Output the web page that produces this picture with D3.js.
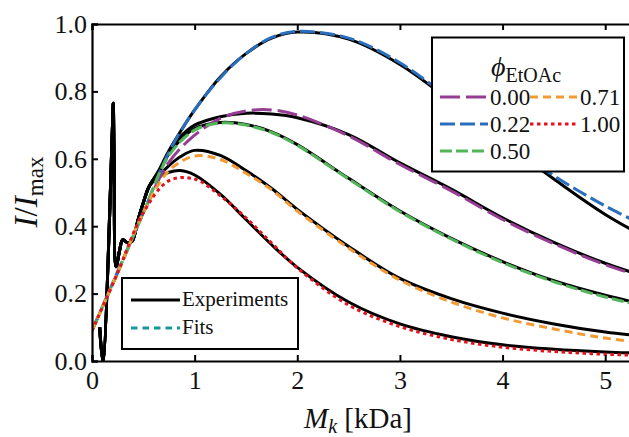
<!DOCTYPE html>
<html><head><meta charset="utf-8">
<script src="https://cdn.jsdelivr.net/npm/d3@7"></script>
<style>
html,body{margin:0;padding:0;background:#fff;}
svg text{font-family:"Liberation Serif","DejaVu Serif",serif;fill:#111;}
</style></head>
<body><svg id="c" width="629" height="437"></svg>
<script>
// ---------------- data ----------------
const xTicks = [0, 1, 2, 3, 4, 5];
const yTicks = [0.0, 0.2, 0.4, 0.6, 0.8, 1.0];
const phiLabels = ["0.00", "0.22", "0.50", "0.71", "1.00"];
const phiColors = ["#953d92", "#2a6fbd", "#52b55a", "#f49a35", "#e3121c"];
const phiDash   = ["20,6", "15,5", "12,4", "8,5", "3.5,3.5"];

// fits (shared grid)
const fitX   = [0, 0.25, 0.5, 0.75, 1.0, 1.25, 1.5, 1.75, 2.0, 2.5, 3.0, 3.5, 4.0, 4.5, 5.0, 5.5];
const fit000 = [0.09, 0.262, 0.44, 0.59, 0.67, 0.72, 0.742, 0.745, 0.73, 0.668, 0.583, 0.505, 0.42, 0.348, 0.286, 0.236];
const fit022 = [0.09, 0.265, 0.44, 0.62, 0.745, 0.84, 0.912, 0.96, 0.978, 0.958, 0.885, 0.775, 0.66, 0.55, 0.46, 0.385];
const fit050 = [0.09, 0.262, 0.44, 0.61, 0.685, 0.706, 0.70, 0.678, 0.64, 0.54, 0.443, 0.362, 0.292, 0.235, 0.19, 0.155];
const fit071 = [0.09, 0.262, 0.44, 0.565, 0.608, 0.598, 0.557, 0.508, 0.445, 0.335, 0.24, 0.175, 0.128, 0.095, 0.068, 0.05];
const fit100 = [0.09, 0.262, 0.44, 0.535, 0.54, 0.49, 0.425, 0.35, 0.276, 0.166, 0.102, 0.064, 0.041, 0.028, 0.02, 0.015];

// experiments: shared low-mass part (with spike), then one branch per composition
const lowX = [0.075, 0.105, 0.2, 0.207, 0.215, 0.235, 0.27, 0.3, 0.35, 0.39, 0.45, 0.5];
const lowY = [0.10, 0.0, 0.70, 0.765, 0.60, 0.28, 0.33, 0.36, 0.35, 0.355, 0.42, 0.47];
const expX   = [0.56, 0.65, 0.75, 0.86, 1.0, 1.25, 1.5, 1.75, 2.0, 2.5, 3.0, 3.5, 4.0, 4.5, 5.0, 5.5];
const exp000 = [0.52, 0.56, 0.62, 0.665, 0.70, 0.725, 0.735, 0.733, 0.722, 0.672, 0.588, 0.51, 0.425, 0.352, 0.29, 0.24];
const exp022 = [0.52, 0.565, 0.625, 0.68, 0.745, 0.843, 0.912, 0.958, 0.976, 0.955, 0.88, 0.77, 0.652, 0.54, 0.435, 0.35];
const exp050 = [0.52, 0.56, 0.615, 0.655, 0.69, 0.708, 0.702, 0.68, 0.642, 0.542, 0.445, 0.364, 0.295, 0.238, 0.195, 0.16];
const exp071 = [0.52, 0.55, 0.58, 0.606, 0.625, 0.61, 0.565, 0.512, 0.45, 0.34, 0.245, 0.185, 0.142, 0.11, 0.086, 0.07];
const exp100 = [0.52, 0.545, 0.56, 0.565, 0.552, 0.495, 0.42, 0.345, 0.278, 0.175, 0.11, 0.072, 0.048, 0.035, 0.027, 0.022];

const fits = [fit000, fit022, fit050, fit071, fit100];
const exps = [exp000, exp022, exp050, exp071, exp100];

// ---------------- layout ----------------
const svg = d3.select("#c");
const L = 92, T = 24, B = 361, R = 636;
const x = d3.scaleLinear().domain([0, 5.3]).range([L, R]);
const y = d3.scaleLinear().domain([0, 1]).range([B, T]);

svg.append("defs").append("clipPath").attr("id", "clip")
  .append("rect").attr("x", L).attr("y", T).attr("width", R - L).attr("height", B - T);

const line = d3.line().x(d => x(d[0])).y(d => y(d[1])).curve(d3.curveCatmullRom.alpha(0.5));
const plot = svg.append("g").attr("clip-path", "url(#clip)");

// experiments (black solid)
exps.forEach(e => {
  const pts = lowX.map((v, i) => [v, lowY[i]]).concat(expX.map((v, i) => [v, e[i]]));
  plot.append("path").attr("d", line(pts)).attr("fill", "none")
    .attr("stroke", "#000").attr("stroke-width", 3).attr("stroke-linejoin", "round");
});
// fits (coloured dashed)
fits.forEach((f, k) => {
  plot.append("path").attr("d", line(fitX.map((v, i) => [v, f[i]]))).attr("fill", "none")
    .attr("stroke", phiColors[k]).attr("stroke-width", 3).attr("stroke-dasharray", phiDash[k]);
});

// axes frame
const axes = svg.append("g");
const xb = axes.append("g").attr("transform", `translate(0,${B})`)
  .call(d3.axisBottom(x).tickValues(xTicks).tickSize(-6).tickPadding(10).tickFormat(d3.format("d")));
const xt = axes.append("g").attr("transform", `translate(0,${T})`)
  .call(d3.axisTop(x).tickValues(xTicks).tickSize(-6).tickFormat(""));
const yl = axes.append("g").attr("transform", `translate(${L},0)`)
  .call(d3.axisLeft(y).tickValues(yTicks).tickSize(-6).tickPadding(5).tickFormat(d3.format(".1f")));
[xb, xt, yl].forEach(g => {
  g.select(".domain").attr("stroke", "#000").attr("stroke-width", 2.2);
  g.selectAll(".tick line").attr("stroke", "#000").attr("stroke-width", 2);
  g.selectAll("text").style("font-family", '"Liberation Serif",serif').style("font-size", "26px").attr("fill", "#111");
});
xb.selectAll("text").attr("dy", "0.7em");

// axis labels
const xlab = svg.append("text").attr("x", 358).attr("y", 428).attr("text-anchor", "middle").style("font-size", "29px");
xlab.append("tspan").style("font-style", "italic").text("M");
xlab.append("tspan").style("font-style", "italic").style("font-size", "20px").attr("dy", 5).text("k");
xlab.append("tspan").attr("dy", -5).text(" [kDa]");

const ylab = svg.append("text").attr("transform", "translate(37,192) rotate(-90)").attr("text-anchor", "middle").style("font-size", "33px");
ylab.append("tspan").style("font-style", "italic").text("I");
ylab.append("tspan").text("/");
ylab.append("tspan").style("font-style", "italic").text("I");
ylab.append("tspan").style("font-size", "23px").attr("dy", 6).text("max");

// phi legend
const lg = svg.append("g");
lg.append("rect").attr("x", 432).attr("y", 37.5).attr("width", 192).attr("height", 134)
  .attr("fill", "#fff").attr("stroke", "#000").attr("stroke-width", 2);
const tt = lg.append("text").attr("x", 491).attr("y", 76).style("font-size", "28px");
tt.append("tspan").style("font-style", "italic").text("ϕ");
tt.append("tspan").style("font-size", "20px").attr("dy", 6).text("EtOAc");
const legPos = [[440, 97], [440, 124], [440, 151], [530, 97], [530, 124]];
phiLabels.forEach((lab, k) => {
  const [lx, ly] = legPos[k];
  lg.append("line").attr("x1", lx).attr("x2", lx + 48).attr("y1", ly).attr("y2", ly)
    .attr("stroke", phiColors[k]).attr("stroke-width", 3).attr("stroke-dasharray", phiDash[k]);
  lg.append("text").attr("x", lx + 50).attr("y", ly + 8).style("font-size", "23px").text(lab);
});

// experiment/fit legend
const lg2 = svg.append("g");
lg2.append("rect").attr("x", 122).attr("y", 278).attr("width", 176).attr("height", 71)
  .attr("fill", "#fff").attr("stroke", "#000").attr("stroke-width", 2);
lg2.append("line").attr("x1", 131).attr("x2", 180).attr("y1", 300).attr("y2", 300)
  .attr("stroke", "#000").attr("stroke-width", 3);
lg2.append("text").attr("x", 182).attr("y", 306).style("font-size", "21px").text("Experiments");
lg2.append("line").attr("x1", 131).attr("x2", 180).attr("y1", 328).attr("y2", 328)
  .attr("stroke", "#139a98").attr("stroke-width", 3).attr("stroke-dasharray", "6.5,5");
lg2.append("text").attr("x", 182).attr("y", 334).style("font-size", "21px").text("Fits");
</script></body></html>
